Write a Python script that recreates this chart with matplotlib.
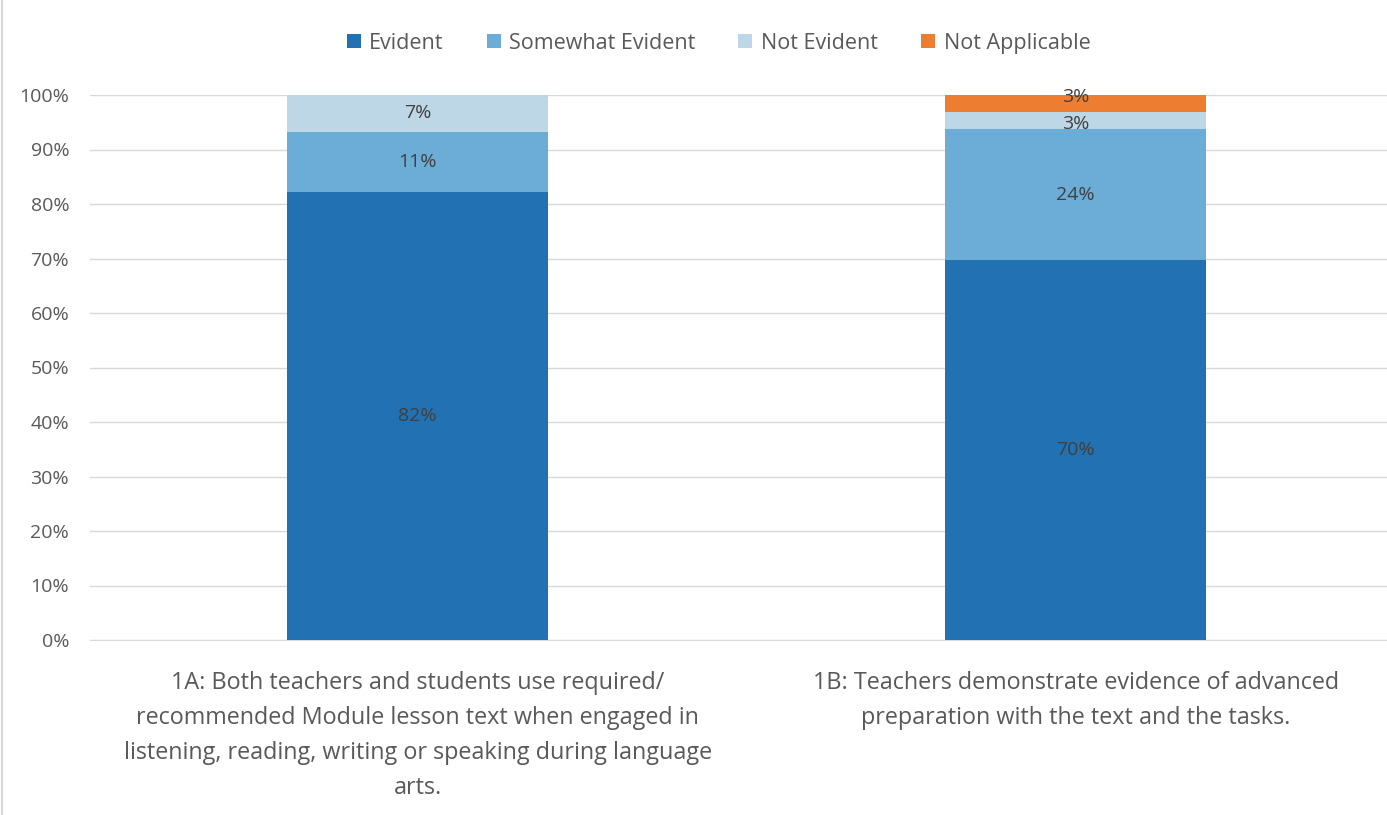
import matplotlib
matplotlib.use("Agg")
import matplotlib.pyplot as plt
from matplotlib.lines import Line2D
from matplotlib.ticker import FuncFormatter, MultipleLocator

plt.rcParams['font.family'] = ['Open Sans', 'DejaVu Sans']

categories = ["1A: Both teachers and students use required/\nrecommended Module lesson text when engaged in\nlistening, reading, writing or speaking during language\narts.",
              "1B: Teachers demonstrate evidence of advanced\npreparation with the text and the tasks.\n\n"]
series_names = ["Evident", "Somewhat Evident", "Not Evident", "Not Applicable"]
values = {
    "Evident": [82.2, 69.7],
    "Somewhat Evident": [11.1, 24.0],
    "Not Evident": [6.7, 3.15],
    "Not Applicable": [0.0, 3.15],
}
labels = {
    "Evident": ["82%", "70%"],
    "Somewhat Evident": ["11%", "24%"],
    "Not Evident": ["7%", "3%"],
    "Not Applicable": ["", "3%"],
}
colors = ["#2271B3", "#6BADD7", "#BDD7E7", "#ED7D31"]

fig = plt.figure(figsize=(13.87, 8.15), dpi=100)
ax = fig.add_axes([90/1387, 175/815, (1387-90)/1387, 545/815])

x = list(range(len(categories)))
bottom = [0.0] * len(categories)
for name, col in zip(series_names, colors):
    vals = values[name]
    ax.bar(x, vals, width=0.397, bottom=bottom, color=col, zorder=3, label=name)
    for i, (v, b) in enumerate(zip(vals, bottom)):
        if v > 0:
            dy = 0
            if v < 5:
                dy = 5 if name == "Not Applicable" else -2
            ax.annotate(labels[name][i], (x[i], b + v / 2), xytext=(0, dy),
                        textcoords='offset points', ha='center', va='center',
                        fontsize=14, color='#404040', zorder=4)
    bottom = [b + v for b, v in zip(bottom, vals)]

ax.set_ylim(0, 100)
ax.set_xlim(-0.498, 1.473)
ax.yaxis.set_major_locator(MultipleLocator(10))
ax.yaxis.set_major_formatter(FuncFormatter(lambda v, p: f"{int(round(v))}%"))
ax.grid(axis='y', color='#D9D9D9', linewidth=1, zorder=0)
for s in ['top', 'right', 'left']:
    ax.spines[s].set_visible(False)
ax.spines['bottom'].set_color('#D9D9D9')
ax.tick_params(axis='y', length=0, labelsize=14, labelcolor='#595959', pad=15)
ax.tick_params(axis='x', length=0, labelsize=16.8, labelcolor='#595959', pad=22)
ax.set_xticks(x)
ax.set_xticklabels(categories, linespacing=1.62, va='top')

leg = fig.legend(loc='center', bbox_to_anchor=(0.518, 0.947), ncol=4, frameon=False,
                 fontsize=15.5, handlelength=0.65, handleheight=0.65, handletextpad=0.4,
                 columnspacing=2.0, labelcolor='#595959')

fig.add_artist(Line2D([2/1387, 2/1387], [0, 1], color='#D9D9D9', linewidth=1.5, transform=fig.transFigure))

fig.savefig("out.png", dpi=100)
